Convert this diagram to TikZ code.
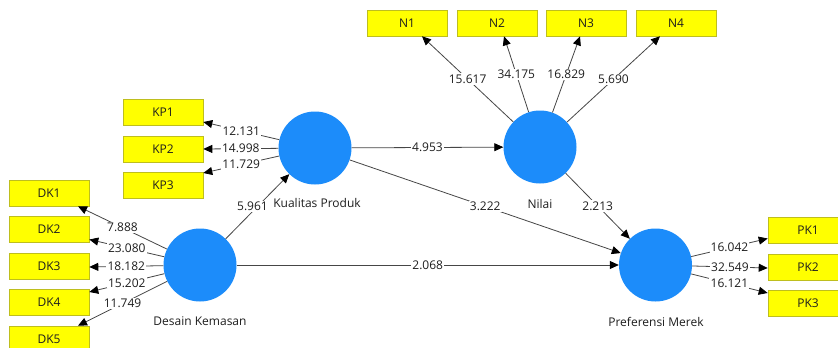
\documentclass[tikz,border=0pt]{standalone}
\usepackage{fontspec}
\setmainfont{Open Sans}
\usetikzlibrary{arrows.meta}
\definecolor{lvblue}{RGB}{28,140,250}
\definecolor{indfill}{RGB}{255,255,0}
\definecolor{indline}{RGB}{190,190,30}
\definecolor{pathgray}{RGB}{70,70,70}
\definecolor{txtgray}{RGB}{30,30,30}
\begin{document}
\begin{tikzpicture}[x=1pt,y=-1pt,
  lv/.style={circle,fill=lvblue,draw=none,minimum size=73pt,inner sep=0pt},
  ind/.style={rectangle,fill=indfill,draw=indline,line width=0.6pt,minimum width=80pt,minimum height=26pt,inner sep=0pt,font=\fontsize{12}{13}\selectfont,text=txtgray},
  lvname/.style={font=\fontsize{12}{13}\selectfont,text=txtgray,inner sep=1pt},
  wt/.style={midway,fill=white,inner sep=1.2pt,font=\fontsize{12}{13}\selectfont,text=txtgray},
  pth/.style={draw=pathgray,line width=0.8pt,-{Triangle[length=9pt,width=8pt,color=black]}}]
\useasboundingbox (0,0) rectangle (838,348);
\fill[white] (0,0) rectangle (838,348);
\clip (0,0) rectangle (838,348);

% latent variables
\node[lv] (kp) at (315,148) {};
\node[lv] (nil) at (540,147) {};
\node[lv] (dk) at (200,265) {};
\node[lv] (pm) at (655.5,265) {};

% indicators
\node[ind] (n1) at (407,23) {N1};
\node[ind] (n2) at (497,23) {N2};
\node[ind] (n3) at (586,23) {N3};
\node[ind] (n4) at (676,23) {N4};
\node[ind] (kp1) at (163,112) {KP1};
\node[ind] (kp2) at (163,149) {KP2};
\node[ind] (kp3) at (163,185) {KP3};
\node[ind] (dk1) at (49,193) {DK1};
\node[ind] (dk2) at (49,229.5) {DK2};
\node[ind] (dk3) at (49,266) {DK3};
\node[ind] (dk4) at (49,302) {DK4};
\node[ind] (dk5) at (49,339) {DK5};
\node[ind] (pk1) at (808,230.5) {PK1};
\node[ind] (pk2) at (808,267) {PK2};
\node[ind] (pk3) at (808,303) {PK3};

% outer loadings
\draw[pth] (nil) -- ([xshift=15]n1.south) node[wt] {15.617};
\draw[pth] (nil) -- ([xshift=7]n2.south) node[wt] {34.175};
\draw[pth] (nil) -- ([xshift=-6]n3.south) node[wt] {16.829};
\draw[pth] (nil) -- ([xshift=-16]n4.south) node[wt] {5.690};

\draw[pth] (kp) -- ([yshift=-10]kp1.east) node[wt] {12.131};
\draw[pth] (kp) -- (kp2.east) node[wt] {14.998};
\draw[pth] (kp) -- ([yshift=12]kp3.east) node[wt] {11.729};

\draw[pth] (dk) -- ([xshift=29]dk1.south) node[wt] {7.888};
\draw[pth] (dk) -- ([yshift=-10]dk2.east) node[wt] {23.080};
\draw[pth] (dk) -- ([yshift=-1]dk3.east) node[wt] {18.182};
\draw[pth] (dk) -- ([yshift=10]dk4.east) node[wt] {15.202};
\draw[pth] (dk) -- ([xshift=29]dk5.north) node[wt] {11.749};

\draw[pth] (pm) -- ([yshift=-8]pk1.west) node[wt] {16.042};
\draw[pth] (pm) -- ([yshift=-1]pk2.west) node[wt] {32.549};
\draw[pth] (pm) -- ([yshift=10]pk3.west) node[wt] {16.121};

% inner model
\draw[pth] (dk) -- (kp) node[wt,xshift=-5] {5.961};
\draw[pth] (kp) -- (nil) node[wt] {4.953};
\draw[pth] (kp) -- (pm) node[wt] {3.222};
\draw[pth] (nil) -- (pm) node[wt] {2.213};
\draw[pth] (dk) -- (pm) node[wt] {2.068};

% construct names
\node[lvname] (kpname) at (317,203) {Kualitas Produk};
\node[lvname] (nilname) at (540,204) {Nilai};
\node[lvname] (dkname) at (200,321) {Desain Kemasan};
\node[lvname] (pmname) at (656,322) {Preferensi Merek};
\end{tikzpicture}
\end{document}
